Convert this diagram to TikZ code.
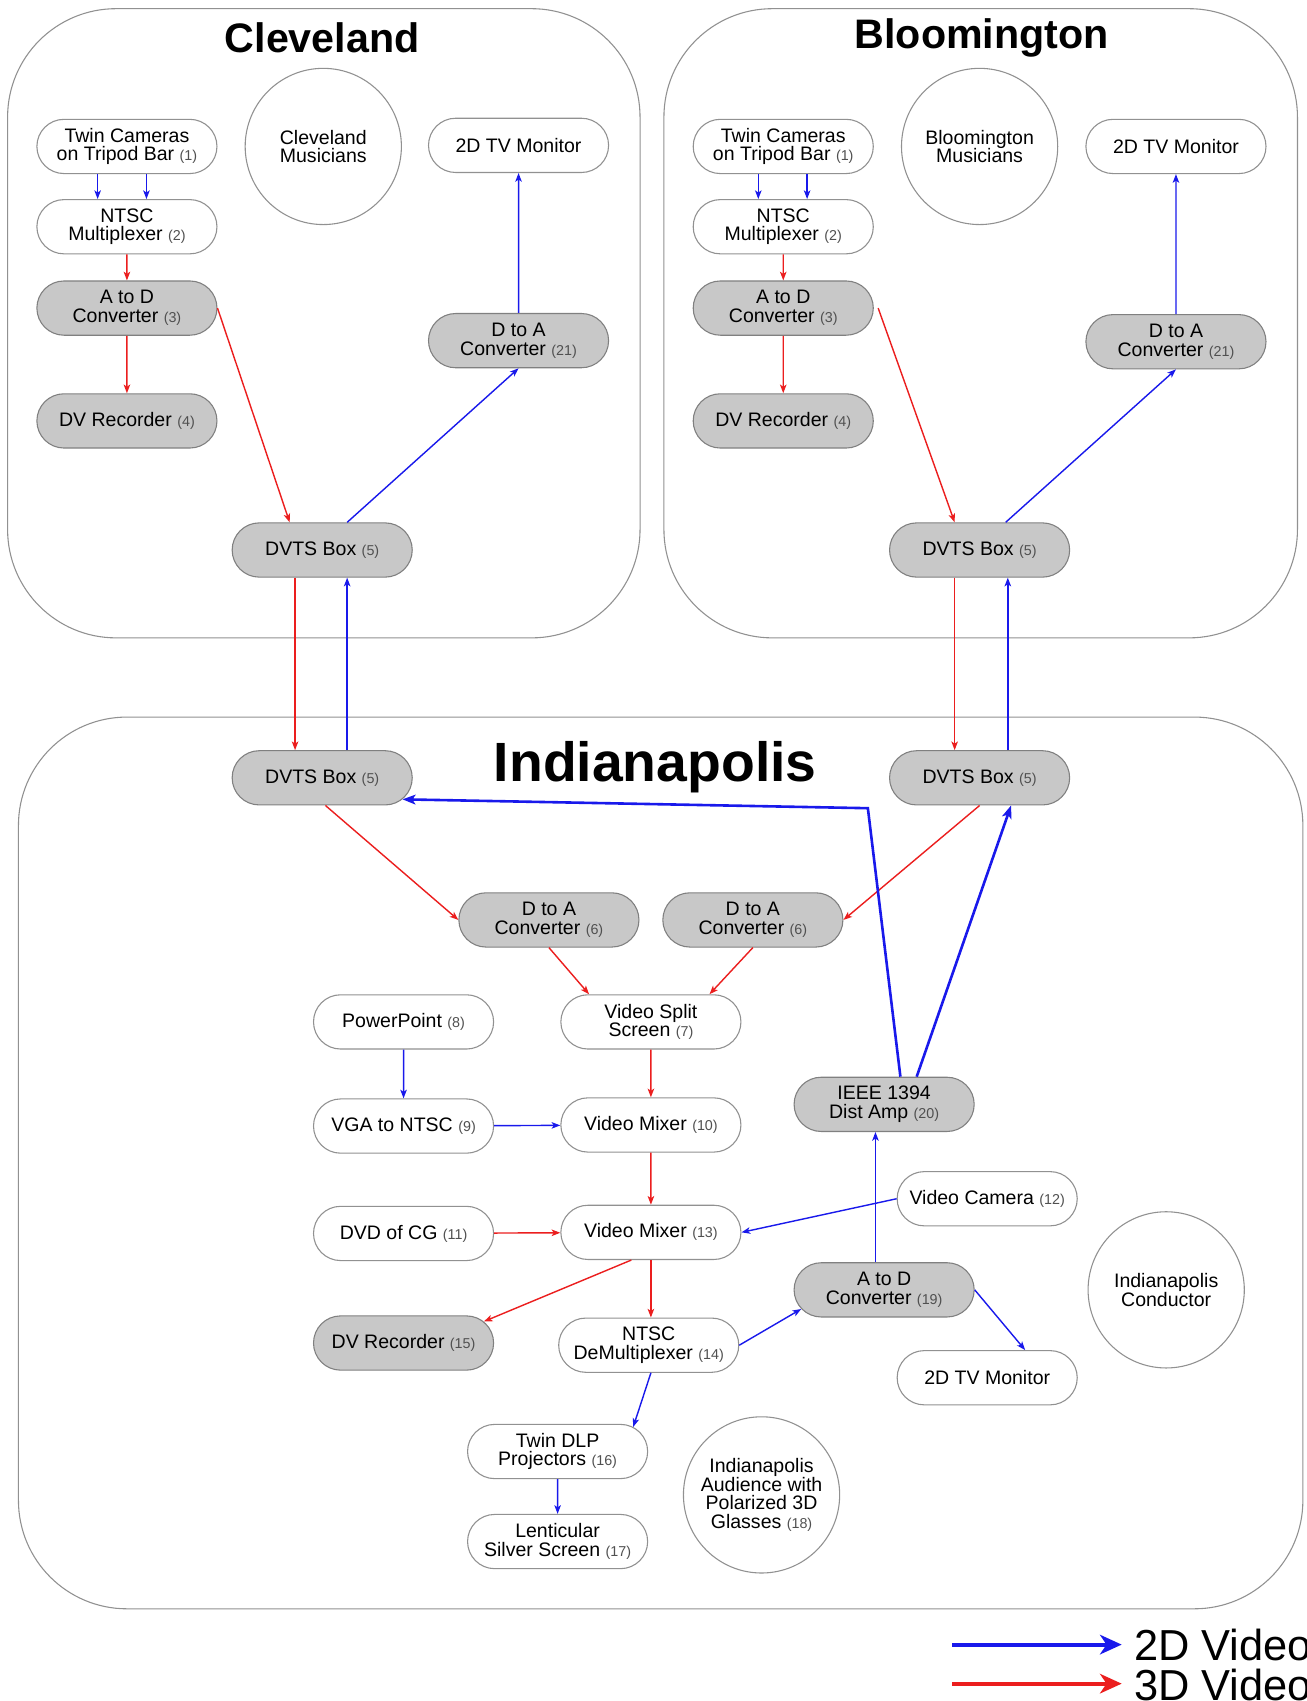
\documentclass[tikz,border=0pt]{standalone}
\usepackage{fontspec}
\setmainfont{Liberation Sans}
\usepackage{xcolor}
\usetikzlibrary{arrows.meta}
\usetikzlibrary{shapes.misc}

\definecolor{vid2d}{RGB}{25,25,235}
\definecolor{vid3d}{RGB}{235,30,30}
\definecolor{boxgray}{RGB}{200,200,200}
\definecolor{linegray}{RGB}{145,145,145}
\definecolor{numgray}{RGB}{80,80,80}

\newcommand{\refno}[1]{{\fontsize{6.6}{6.6}\selectfont\color{numgray}(#1)}}

\tikzset{
    dev/.style={rounded rectangle, draw=linegray, line width=0.5pt, fill=white,
        minimum width=85pt, minimum height=25pt, inner sep=1pt, align=center,
        font=\fontsize{9}{8.6}\selectfont},
    devgray/.style={dev, fill=boxgray, draw=gray},
    people/.style={circle, draw=linegray, line width=0.5pt, minimum size=72pt,
        inner sep=0pt, align=center, font=\fontsize{9}{8.6}\selectfont},
    site/.style={draw=linegray, line width=0.5pt, rounded corners=50pt},
    sitename/.style={font=\fontsize{19}{19}\selectfont\bfseries},
    v2d/.style={draw=vid2d, line width=0.65pt, -{Stealth[length=4pt,width=3pt,inset=1pt]}},
    v3d/.style={draw=vid3d, line width=0.65pt, -{Stealth[length=4pt,width=3pt,inset=1pt]}},
    v2dthick/.style={draw=vid2d, line width=1.2pt, -{Stealth[length=6pt,width=4.5pt,inset=1.5pt]}},
    legend/.style={line width=1.85pt, -{Stealth[length=10pt,width=9pt,inset=3pt]}},
}

\begin{document}
\begin{tikzpicture}[x=0.5pt,y=-0.5pt]
        \useasboundingbox (0,0) rectangle (1204,1568);

        % sites
        \draw[site] (7,8) rectangle (590,588);
        \draw[site] (612,8) rectangle (1196,588);
        \draw[site] (17,661) rectangle (1201,1483);
        \node[sitename] (cTitle) at (297,35) {Cleveland};
        \node[sitename] (bTitle) at (905,35) {Bloomington};
        \node[sitename, font=\fontsize{25.5}{25.5}\selectfont\bfseries] (iTitle) at (604,707) {Indianapolis};

        % Cleveland
        \node[dev] (cCam) at (117,135) {Twin Cameras\\on Tripod Bar \refno{1}};
        \node[people] (cMus) at (298,135) {Cleveland\\Musicians};
        \node[dev] (cTV) at (478,134) {2D TV Monitor};
        \node[dev] (cMux) at (117,209) {NTSC\\Multiplexer \refno{2}};
        \node[devgray] (cAD) at (117,284) {A to D\\Converter \refno{3}};
        \node[devgray] (cRec) at (117,388) {DV Recorder \refno{4}};
        \node[devgray] (cDA) at (478,314) {D to A\\Converter \refno{21}};
        \node[devgray] (cDVTS) at (297,507) {DVTS Box \refno{5}};

        % Bloomington
        \node[dev] (bCam) at (722,135) {Twin Cameras\\on Tripod Bar \refno{1}};
        \node[people] (bMus) at (903,135) {Bloomington\\Musicians};
        \node[dev] (bTV) at (1084,135) {2D TV Monitor};
        \node[dev] (bMux) at (722,209) {NTSC\\Multiplexer \refno{2}};
        \node[devgray] (bAD) at (722,284) {A to D\\Converter \refno{3}};
        \node[devgray] (bRec) at (722,388) {DV Recorder \refno{4}};
        \node[devgray] (bDA) at (1084,315) {D to A\\Converter \refno{21}};
        \node[devgray] (bDVTS) at (903,507) {DVTS Box \refno{5}};

        % Indianapolis
        \node[devgray] (iDVTSc) at (297,717) {DVTS Box \refno{5}};
        \node[devgray] (iDVTSb) at (903,717) {DVTS Box \refno{5}};
        \node[devgray] (iDAl) at (506,848) {D to A\\Converter \refno{6}};
        \node[devgray] (iDAr) at (694,848) {D to A\\Converter \refno{6}};
        \node[dev] (iSplit) at (600,942) {Video Split\\Screen \refno{7}};
        \node[dev] (iPpt) at (372,942) {PowerPoint \refno{8}};
        \node[dev] (iVga) at (372,1038) {VGA to NTSC \refno{9}};
        \node[dev] (iMix1) at (600,1037) {Video Mixer \refno{10}};
        \node[devgray] (iAmp) at (815,1018) {IEEE 1394\\Dist Amp \refno{20}};
        \node[dev] (iCam) at (910,1105) {Video Camera \refno{12}};
        \node[dev] (iDvd) at (372,1137) {DVD of CG \refno{11}};
        \node[dev] (iMix2) at (600,1136) {Video Mixer \refno{13}};
        \node[devgray] (iAD) at (815,1189) {A to D\\Converter \refno{19}};
        \node[people] (iCond) at (1075,1189) {Indianapolis\\Conductor};
        \node[devgray] (iRec) at (372,1238) {DV Recorder \refno{15}};
        \node[dev] (iDemux) at (598,1240) {NTSC\\DeMultiplexer \refno{14}};
        \node[dev] (iTV) at (910,1270) {2D TV Monitor};
        \node[dev] (iDlp) at (514,1338) {Twin DLP\\Projectors \refno{16}};
        \node[people] (iAud) at (702,1378) {Indianapolis\\Audience with\\Polarized 3D\\Glasses \refno{18}};
        \node[dev] (iScreen) at (514,1421) {Lenticular\\Silver Screen \refno{17}};

        % Cleveland links
        \draw[v2d] ([xshift=-13.5pt]cCam.south) -- ([xshift=-13.5pt]cMux.north);
        \draw[v2d] ([xshift=9pt]cCam.south) -- ([xshift=9pt]cMux.north);
        \draw[v3d] (cMux) -- (cAD);
        \draw[v3d] (cAD) -- (cRec);
        \draw[v3d] (cAD.east) -- ([xshift=-15pt]cDVTS.north);
        \draw[v2d] ([xshift=11.5pt]cDVTS.north) -- (cDA.south);
        \draw[v2d] (cDA) -- (cTV);
        \draw[v3d] ([xshift=-12.5pt]cDVTS.south) -- ([xshift=-12.5pt]iDVTSc.north);
        \draw[v2d] ([xshift=11.5pt]iDVTSc.north) -- ([xshift=11.5pt]cDVTS.south);

        % Bloomington links
        \draw[v2d] ([xshift=-11.5pt]bCam.south) -- ([xshift=-11.5pt]bMux.north);
        \draw[v2d] ([xshift=11pt]bCam.south) -- ([xshift=11pt]bMux.north);
        \draw[v3d] (bMux) -- (bAD);
        \draw[v3d] (bAD) -- (bRec);
        \draw[v3d] ([xshift=2pt]bAD.east) -- ([xshift=-11.5pt]bDVTS.north);
        \draw[v2d] ([xshift=12pt]bDVTS.north) -- (bDA.south);
        \draw[v2d] (bDA) -- (bTV);
        \draw[v3d] ([xshift=-11.5pt]bDVTS.south) -- ([xshift=-11.5pt]iDVTSb.north);
        \draw[v2d] ([xshift=13pt]iDVTSb.north) -- ([xshift=13pt]bDVTS.south);

        % Indianapolis links
        \draw[v3d] ([xshift=1.5pt]iDVTSc.south) -- (iDAl.west);
        \draw[v3d] (iDVTSb.south) -- (iDAr.east);
        \draw[v3d] (iDAl.south) -- ([xshift=-28.5pt]iSplit.north);
        \draw[v3d] (iDAr.south) -- ([xshift=27pt]iSplit.north);
        \draw[v3d] (iSplit) -- (iMix1);
        \draw[v2d] (iPpt) -- (iVga);
        \draw[v2d] (iVga) -- (iMix1);
        \draw[v3d] (iMix1) -- (iMix2);
        \draw[v3d] (iDvd) -- (iMix2);
        \draw[v2d] (iCam.west) -- (iMix2.east);
        \draw[v3d] ([xshift=-9pt]iMix2.south) -- (iRec.15);
        \draw[v3d] (iMix2.south) -- (iMix2.south |- iDemux.north);
        \draw[v2d] (iDemux.east) -- (iAD.193);
        \draw[v2d] ([xshift=-4pt]iAD.north) -- ([xshift=-4pt]iAmp.south);
        \draw[v2d] (iAD.east) -- ([xshift=17.5pt]iTV.north);
        \draw[v2d] ([xshift=1pt]iDemux.south) -- (iDlp.18);
        \draw[v2d] (iDlp) -- (iScreen);

        \coordinate (iBend) at (800,745);
        \draw[v2dthick] ([xshift=7.5pt]iAmp.north) -- (iBend) -- (iDVTSc.-15);
        \draw[v2dthick] ([xshift=15pt]iAmp.north) -- ([xshift=14.5pt]iDVTSb.south);

        % legend
        \coordinate (lg2a) at (878,1516);
        \coordinate (lg2b) at (1034,1516);
        \coordinate (lg3a) at (878,1552);
        \coordinate (lg3b) at (1034,1552);
        \draw[legend, vid2d] (lg2a) -- (lg2b);
        \draw[legend, vid3d] (lg3a) -- (lg3b);
        \node[anchor=west, inner sep=0pt, font=\fontsize{20}{20}\selectfont] (lg2) at (1045,1516) {2D Video};
        \node[anchor=west, inner sep=0pt, font=\fontsize{20}{20}\selectfont] (lg3) at (1045,1553) {3D Video};
\end{tikzpicture}
\end{document}
